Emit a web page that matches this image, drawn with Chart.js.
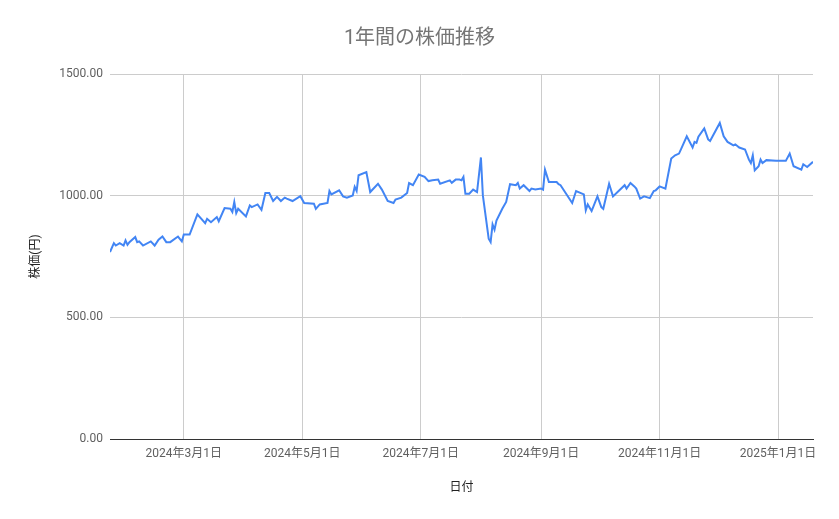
<!DOCTYPE html>
<html>
<head>
<meta charset="utf-8">
<script src="https://cdn.jsdelivr.net/npm/chart.js@4.4.1/dist/chart.umd.min.js"></script>
<style>
  html, body { margin: 0; padding: 0; background: #fff; }
  #chart { display: block; }
</style>
</head>
<body>
<canvas id="chart" width="839" height="519"></canvas>
<script>
// values
const dates = [
  '2024-01-23','2024-01-25','2024-01-26','2024-01-28','2024-01-30','2024-01-31','2024-02-01','2024-02-02',
  '2024-02-05','2024-02-06','2024-02-07','2024-02-09','2024-02-13','2024-02-15','2024-02-17','2024-02-19',
  '2024-02-21','2024-02-23','2024-02-27','2024-02-29','2024-03-01','2024-03-04','2024-03-08','2024-03-12',
  '2024-03-13','2024-03-15','2024-03-18','2024-03-19','2024-03-22','2024-03-25','2024-03-26','2024-03-27',
  '2024-03-28','2024-03-29','2024-04-02','2024-04-04','2024-04-05','2024-04-08','2024-04-10','2024-04-12',
  '2024-04-14','2024-04-16','2024-04-18','2024-04-20','2024-04-22','2024-04-23','2024-04-26','2024-04-30',
  '2024-05-02','2024-05-07','2024-05-08','2024-05-10','2024-05-14','2024-05-15','2024-05-16','2024-05-20',
  '2024-05-22','2024-05-24','2024-05-27','2024-05-28','2024-05-29','2024-05-30','2024-06-03','2024-06-05',
  '2024-06-09','2024-06-11','2024-06-14','2024-06-17','2024-06-18','2024-06-21','2024-06-24','2024-06-25',
  '2024-06-27','2024-06-30','2024-07-03','2024-07-05','2024-07-07','2024-07-10','2024-07-11','2024-07-16',
  '2024-07-17','2024-07-19','2024-07-21','2024-07-22','2024-07-23','2024-07-24','2024-07-26','2024-07-28',
  '2024-07-30','2024-08-01','2024-08-02','2024-08-05','2024-08-06','2024-08-07','2024-08-08','2024-08-09',
  '2024-08-12','2024-08-14','2024-08-16','2024-08-19','2024-08-20','2024-08-21','2024-08-23','2024-08-26',
  '2024-08-27','2024-08-29','2024-09-01','2024-09-02','2024-09-03','2024-09-05','2024-09-09','2024-09-10',
  '2024-09-11','2024-09-17','2024-09-19','2024-09-23','2024-09-24','2024-09-25','2024-09-27','2024-09-30',
  '2024-10-02','2024-10-03','2024-10-06','2024-10-08','2024-10-14','2024-10-15','2024-10-17','2024-10-19',
  '2024-10-20','2024-10-22','2024-10-24','2024-10-27','2024-10-29','2024-10-30','2024-11-01','2024-11-04',
  '2024-11-07','2024-11-09','2024-11-11','2024-11-12','2024-11-15','2024-11-18','2024-11-19','2024-11-20',
  '2024-11-21','2024-11-24','2024-11-26','2024-11-27','2024-12-02','2024-12-04','2024-12-06','2024-12-09',
  '2024-12-10','2024-12-12','2024-12-15','2024-12-17','2024-12-18','2024-12-19','2024-12-20','2024-12-22',
  '2024-12-23','2024-12-24','2024-12-26','2024-12-31','2025-01-05','2025-01-07','2025-01-09','2025-01-13',
  '2025-01-14','2025-01-16','2025-01-19'
];

const prices = [
  768, 805, 795, 805, 795, 816, 798, 809,
  830, 809, 812, 795, 812, 795, 819, 832,
  809, 809, 832, 812, 840, 840, 923, 887,
  905, 891, 912, 895, 949, 946, 933, 974,
  928, 946, 915, 960, 953, 964, 942, 1011,
  1011, 978, 995, 978, 992, 988, 978, 998,
  970, 967, 946, 964, 970, 1019, 1005, 1022,
  997, 992, 1001, 1036, 1019, 1084, 1097, 1015,
  1049, 1025, 978, 970, 984, 992, 1011, 1052,
  1043, 1087, 1077, 1060, 1063, 1066, 1049, 1063,
  1053, 1066, 1066, 1063, 1077, 1008, 1008, 1025,
  1015, 1157, 1001, 823, 809, 882, 860, 898,
  946, 974, 1047, 1043, 1052, 1029, 1043, 1019,
  1029, 1025, 1029, 1025, 1107, 1056, 1056, 1047,
  1043, 970, 1019, 1005, 940, 964, 937, 997,
  953, 946, 1049, 997, 1043, 1029, 1052, 1038,
  1029, 988, 997, 990, 1019, 1022, 1038, 1029,
  1153, 1166, 1173, 1190, 1244, 1198, 1221, 1217,
  1242, 1276, 1231, 1225, 1299, 1244, 1221, 1207,
  1211, 1198, 1190, 1148, 1134, 1166, 1104, 1121,
  1148, 1134, 1146, 1143, 1143, 1173, 1121, 1107,
  1129, 1118, 1139
];

const tickDates  = ['2024-03-01', '2024-05-01', '2024-07-01', '2024-09-01', '2024-11-01', '2025-01-01'];
const tickLabels = ['2024年3月1日', '2024年5月1日', '2024年7月1日', '2024年9月1日', '2024年11月1日', '2025年1月1日'];
const yTicks = [0, 500, 1000, 1500];

// days since 2024-01-01 (no date adapter in the sandbox, so x is a plain linear scale)
const BASE = Date.UTC(2024, 0, 1);
function toDay(s) {
  const [y, m, d] = s.split('-').map(Number);
  return (Date.UTC(y, m - 1, d) - BASE) / 86400000;
}

const FONT = 'Roboto, "Noto Sans CJK JP", sans-serif';
const tickDays = tickDates.map(toDay);

new Chart(document.getElementById('chart'), {
  type: 'line',
  data: {
    datasets: [{
      data: dates.map((d, i) => ({ x: toDay(d), y: prices[i] })),
      borderColor: '#4285f4',
      borderWidth: 2,
      pointRadius: 0,
      tension: 0,
      fill: false
    }]
  },
  options: {
    responsive: false,
    animation: false,
    // equal side padding keeps the title centred on the canvas
    layout: { padding: { left: 26, right: 26, top: 0, bottom: 0 } },
    plugins: {
      legend: { display: false },
      tooltip: { enabled: false },
      title: {
        display: true,
        text: '1年間の株価推移',
        color: '#757575',
        font: { family: FONT, size: 20, weight: 'normal' },
        padding: { top: 27, bottom: 23 }
      }
    },
    scales: {
      x: {
        type: 'linear',
        min: toDay(dates[0]),
        max: toDay(dates[dates.length - 1]),
        afterBuildTicks: axis => { axis.ticks = tickDays.map(v => ({ value: v })); },
        afterFit: s => { s.height = 80; },
        ticks: {
          autoSkip: false,
          maxRotation: 0,
          padding: 8,
          color: '#5f5f5f',
          font: { family: FONT, size: 12 },
          callback: v => tickLabels[tickDays.indexOf(v)] ?? ''
        },
        grid: { color: '#cccccc', drawTicks: false },
        border: { color: '#333333', width: 1 },
        title: {
          display: true,
          text: '日付',
          color: '#222222',
          font: { family: FONT, size: 12 },
          padding: { top: 0, bottom: 24 }
        }
      },
      y: {
        min: 0,
        max: 1500,
        afterBuildTicks: axis => { axis.ticks = yTicks.map(v => ({ value: v })); },
        afterFit: s => { s.width = 84; },
        ticks: {
          padding: 7,
          color: '#5f5f5f',
          font: { family: FONT, size: 12 },
          callback: v => v.toFixed(2)
        },
        grid: { color: '#cccccc', drawTicks: false },
        border: { display: false },
        title: {
          display: true,
          text: '株価(円)',
          color: '#222222',
          font: { family: FONT, size: 12 },
          padding: { top: 3, bottom: 0 }
        }
      }
    }
  }
});
</script>
</body>
</html>
